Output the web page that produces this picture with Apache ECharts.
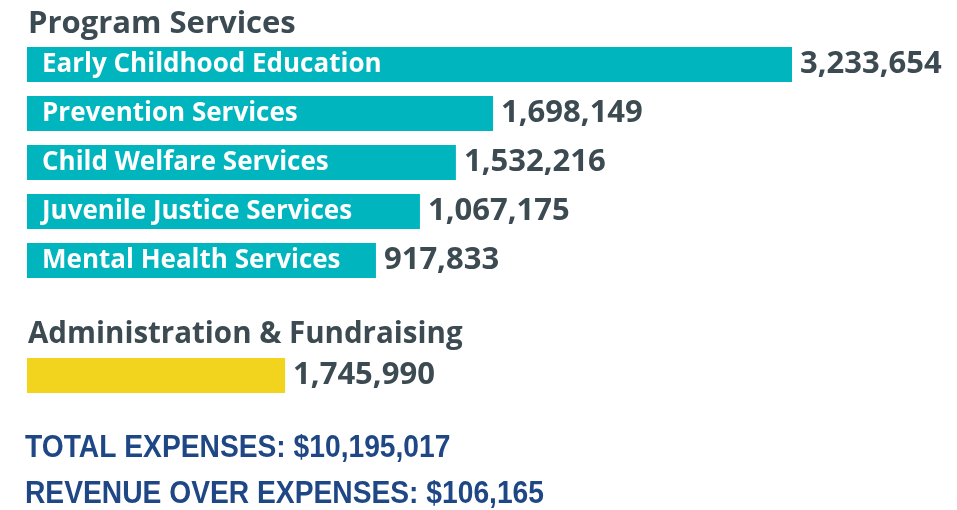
<!DOCTYPE html>
<html>
<head>
    <meta charset="utf-8">
    <title>Expenses</title>
    <script src="https://cdn.jsdelivr.net/npm/echarts@6/dist/echarts.min.js"></script>
    <style>
        html, body { margin: 0; padding: 0; background: #fff; }
        #main { width: 957px; height: 510px; }
    </style>
</head>
<body>
<div id="main"></div>
<script>
// program services
var programNames = ['Early Childhood Education', 'Prevention Services', 'Child Welfare Services', 'Juvenile Justice Services', 'Mental Health Services'];
var programAmounts = [3233654, 1698149, 1532216, 1067175, 917833];
// bar extents as drawn in the source (its bars are not to scale with the printed amounts)
var programBars = [3233654, 1970000, 1813000, 1661000, 1475000];

// administration
var adminNames = ['Administration & Fundraising'];
var adminAmounts = [1745990];
var adminBars = [1091000];

var totalExpenses = 10195017;
var revenueOverExpenses = 106165;

var axisMax = 3500000;

var teal = '#00b5bd';
var yellow = '#f2d41f';
var gray = '#3c4a52';
var blue = '#1f4785';
var font = '"Open Sans", sans-serif';

function fmt(v) {
    return v.toLocaleString('en-US');
}

function barSeries(idx, names, bars, amounts, color) {
    return [{
        type: 'bar',
        xAxisIndex: idx,
        yAxisIndex: idx,
        barWidth: 35,
        barGap: '-100%',
        itemStyle: { color: color },
        label: {
            show: color !== yellow,
            position: 'insideLeft',
            distance: 15,
            color: '#fff',
            fontFamily: font,
            fontWeight: 'bold',
            fontSize: 26,
            formatter: function (p) { return names[p.dataIndex]; }
        },
        data: bars
    }, {
        type: 'bar',
        xAxisIndex: idx,
        yAxisIndex: idx,
        barWidth: 35,
        barGap: '-100%',
        itemStyle: { color: 'rgba(0,0,0,0)' },
        label: {
            show: true,
            position: 'right',
            distance: 8,
            color: gray,
            fontFamily: font,
            fontWeight: 'bold',
            fontSize: 31,
            formatter: function (p) { return fmt(amounts[p.dataIndex]); }
        },
        data: bars
    }];
}

var chart = echarts.init(document.getElementById('main'));

option = {
    backgroundColor: '#fff',
    animation: false,
    grid: [
        { left: 27, top: 40, width: 828, height: 245 },
        { left: 27, top: 351, width: 828, height: 49 }
    ],
    xAxis: [
        { gridIndex: 0, type: 'value', min: 0, max: axisMax, show: false },
        { gridIndex: 1, type: 'value', min: 0, max: axisMax, show: false }
    ],
    yAxis: [
        { gridIndex: 0, type: 'category', inverse: true, data: programNames, show: false },
        { gridIndex: 1, type: 'category', inverse: true, data: adminNames, show: false }
    ],
    graphic: [{
        type: 'text', left: 28, top: 9,
        style: { text: 'Program Services', fill: gray, font: 'bold 31px ' + font }
    }, {
        type: 'text', left: 28, top: 320,
        style: { text: 'Administration & Fundraising', fill: gray, font: 'bold 29.5px ' + font }
    }, {
        type: 'text', x: 25, y: 433, scaleX: 0.91, originX: 0,
        style: { text: 'TOTAL EXPENSES: $' + fmt(totalExpenses), fill: blue, font: 'bold 31px "Liberation Sans", sans-serif', verticalAlign: 'top' }
    }, {
        type: 'text', x: 25, y: 479, scaleX: 0.91, originX: 0,
        style: { text: 'REVENUE OVER EXPENSES: $' + fmt(revenueOverExpenses), fill: blue, font: 'bold 31px "Liberation Sans", sans-serif', verticalAlign: 'top' }
    }],
    series: barSeries(0, programNames, programBars, programAmounts, teal)
        .concat(barSeries(1, adminNames, adminBars, adminAmounts, yellow))
};
chart.setOption(option);
</script>
</body>
</html>
